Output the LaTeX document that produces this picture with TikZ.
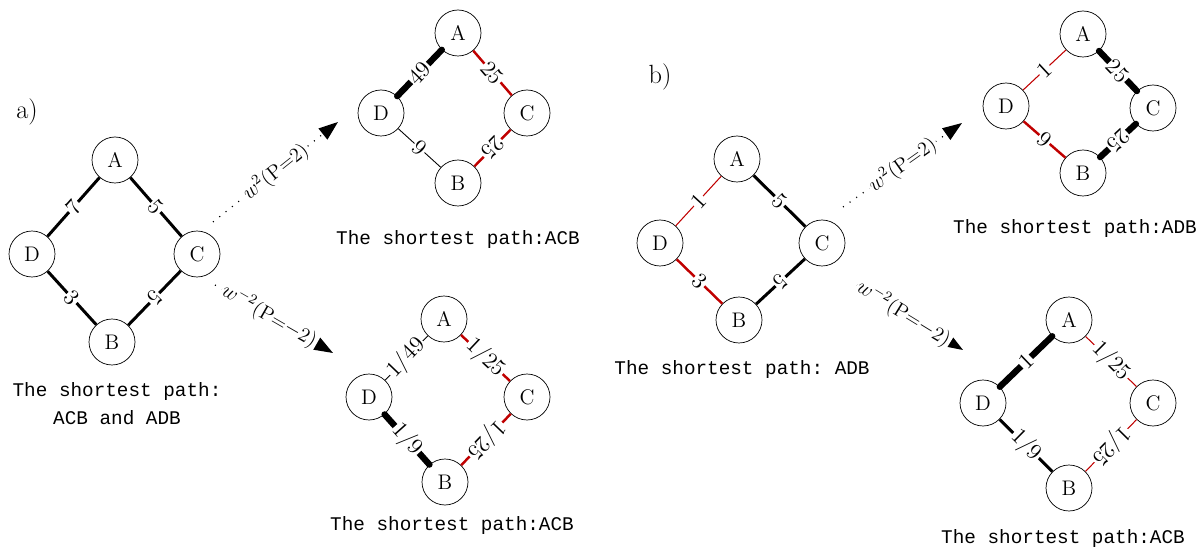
\documentclass[tikz,border=0pt]{standalone}
\usepackage{fontspec}
\setmonofont{Liberation Mono}
\usetikzlibrary{arrows.meta}
\definecolor{pathred}{RGB}{192,0,0}

\begin{document}
\begin{tikzpicture}[x=0.02cm, y=-0.02cm,
        vtx/.style={draw, circle, minimum size=0.92cm, inner sep=0pt, font=\fontsize{12}{14}\selectfont},
        wlab/.style={sloped, allow upside down, fill=white, text=black, inner sep=0.6pt, font=\fontsize{13}{15}\selectfont},
        wnorm/.style={line width=1.7pt},
        wheavy/.style={line width=3.6pt, line cap=round},
        wthin/.style={line width=0.5pt},
        rmid/.style={pathred, line width=1.4pt},
        rthin/.style={pathred, line width=0.6pt},
        captxt/.style={align=center, font=\ttfamily\fontsize{11}{16}\selectfont},
        paneltag/.style={font=\fontsize{15}{17}\selectfont},
        dotarrow/.style={line width=0.7pt, dash pattern=on 0.6pt off 4pt, -{Triangle[length=11pt, width=8pt]}},
        alab/.style={sloped, fill=white, inner sep=1pt, font=\fontsize{11.5}{13}\selectfont}]
    \useasboundingbox (0, 0) rectangle (1199, 550);

    % a) original weights
    \node[paneltag] (ta) at (27, 112) {a)};
    \node[vtx] (A1) at (115, 160) {A};
    \node[vtx] (D1) at (32, 254) {D};
    \node[vtx] (C1) at (197, 254) {C};
    \node[vtx] (B1) at (112, 342) {B};
    \draw[wnorm] (D1) -- node[wlab] {7} (A1);
    \draw[wnorm] (A1) -- node[wlab] {5} (C1);
    \draw[wnorm] (C1) -- node[wlab] {5} (B1);
    \draw[wnorm] (D1) -- node[wlab] {3} (B1);
    \node[captxt] (cap1) at (117, 404) {The shortest path:\\ACB and ADB};

    % a) P = 2
    \node[vtx] (A2) at (458, 33) {A};
    \node[vtx] (D2) at (381, 113) {D};
    \node[vtx] (C2) at (527, 113) {C};
    \node[vtx] (B2) at (458, 183) {B};
    \draw[wheavy] (D2) -- node[wlab] {49} (A2);
    \draw[rmid] (A2) -- node[wlab] {25} (C2);
    \draw[rmid] (C2) -- node[wlab] {25} (B2);
    \draw[wthin] (D2) -- node[wlab] {9} (B2);
    \node[captxt] (cap2) at (458, 240) {The shortest path:ACB};

    % a) P = -2
    \node[vtx] (A3) at (444, 319) {A};
    \node[vtx] (D3) at (369, 397) {D};
    \node[vtx] (C3) at (527, 397) {C};
    \node[vtx] (B3) at (445, 482) {B};
    \draw[wthin] (D3) -- node[wlab] {1/49} (A3);
    \draw[rmid] (A3) -- node[wlab] {1/25} (C3);
    \draw[rmid] (C3) -- node[wlab] {1/25} (B3);
    \draw[wheavy] (D3) -- node[wlab] {1/9} (B3);
    \node[captxt] (cap3) at (452, 525) {The shortest path:ACB};

    % a) arrows
    \coordinate (s1) at (213, 222);
    \coordinate (e1) at (338, 122);
    \coordinate (s2) at (215, 285);
    \coordinate (e2) at (333, 353);
    \draw[dotarrow] (s1) -- node[alab, pos=0.5] {$w^{2}$(P=2)} (e1);
    \draw[dotarrow] (s2) -- node[alab, pos=0.46] {$w^{-2}$(P=$-$2)} (e2);

    % b) original weights
    \node[paneltag] (tb) at (660, 77) {b)};
    \node[vtx] (A4) at (737, 159) {A};
    \node[vtx] (D4) at (660, 243) {D};
    \node[vtx] (C4) at (822, 243) {C};
    \node[vtx] (B4) at (739, 320) {B};
    \draw[rthin] (D4) -- node[wlab] {1} (A4);
    \draw[wnorm] (A4) -- node[wlab] {5} (C4);
    \draw[wnorm] (C4) -- node[wlab] {5} (B4);
    \draw[rmid] (D4) -- node[wlab] {3} (B4);
    \node[captxt] (cap4) at (742, 370) {The shortest path: ADB};

    % b) P = 2
    \node[vtx] (A5) at (1083, 34) {A};
    \node[vtx] (D5) at (1006, 106) {D};
    \node[vtx] (C5) at (1153, 108) {C};
    \node[vtx] (B5) at (1083, 173) {B};
    \draw[rthin] (D5) -- node[wlab] {1} (A5);
    \draw[wheavy] (A5) -- node[wlab] {25} (C5);
    \draw[wheavy] (C5) -- node[wlab] {25} (B5);
    \draw[rmid] (D5) -- node[wlab] {9} (B5);
    \node[captxt] (cap5) at (1075, 229) {The shortest path:ADB};

    % b) P = -2
    \node[vtx] (A6) at (1069, 320) {A};
    \node[vtx] (D6) at (983, 403) {D};
    \node[vtx] (C6) at (1153, 403) {C};
    \node[vtx] (B6) at (1069, 488) {B};
    \draw[wheavy] (D6) -- node[wlab] {1} (A6);
    \draw[rthin] (A6) -- node[wlab] {1/25} (C6);
    \draw[rthin] (C6) -- node[wlab] {1/25} (B6);
    \draw[wnorm] (D6) -- node[wlab] {1/9} (B6);
    \node[captxt] (cap6) at (1063, 538) {The shortest path:ACB};

    % b) arrows
    \coordinate (s3) at (843, 207);
    \coordinate (e3) at (962, 123);
    \coordinate (s4) at (857, 285);
    \coordinate (e4) at (963, 350);
    \draw[dotarrow] (s3) -- node[alab, pos=0.5] {$w^{2}$(P=2)} (e3);
    \draw[dotarrow] (s4) -- node[alab, pos=0.44] {$w^{-2}$(P=$-$2)} (e4);
\end{tikzpicture}
\end{document}
